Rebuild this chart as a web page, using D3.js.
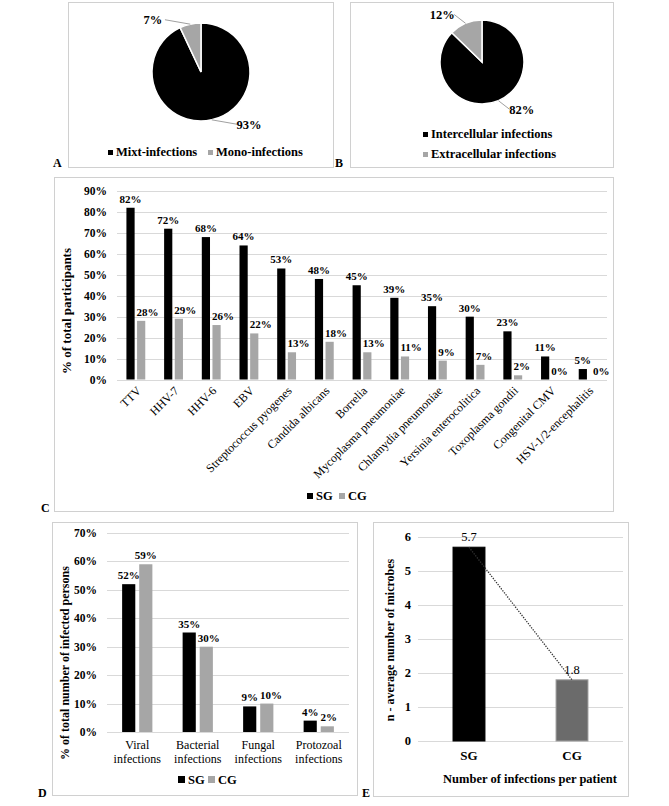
<!DOCTYPE html>
<html lang="en">
<head>
<meta charset="UTF-8" />
<title>Infections</title>
<style>
  body{margin:0;background:#fff;}
</style>
</head>
<body>
<div id="chart"></div>
<script src="https://d3js.org/d3.v7.min.js"></script>
<script>
  // --- data ---
  const pieALabels=['Mixt-infections','Mono-infections'];
  const pieAValues=[93,7];
  const pieBLabels=['Intercellular infections','Extracellular infections'];
  const pieBValues=[82,12];

  const seriesNames=['SG','CG'];
  const cCategories=['TTV','HHV-7','HHV-6','EBV','Streptococcus pyogenes','Candida albicans','Borrelia',
    'Mycoplasma pneumoniae','Chlamydia pneumoniae','Yersinia enterocolitica','Toxoplasma gondii',
    'Congenital CMV','HSV-1/2-encephalitis'];
  const cSG=[82,72,68,64,53,48,45,39,35,30,23,11,5];
  const cCG=[28,29,26,22,13,18,13,11,9,7,2,0,0];
  const cTicks=[0,10,20,30,40,50,60,70,80,90];

  const dCategories=['Viral infections','Bacterial infections','Fungal infections','Protozoal infections'];
  const dSG=[52,35,9,4];
  const dCG=[59,30,10,2];
  const dTicks=[0,10,20,30,40,50,60,70];

  const eGroups=['SG','CG'];
  const eValues=[5.7,1.8];
  const eTicks=[0,1,2,3,4,5,6];

  const BLACK='#000', GRAY='#a6a6a6', GRID='#d9d9d9', FRAME='#d0d0d0';
  const FONT='Liberation Serif, Times New Roman, DejaVu Serif, serif';

  const svg=d3.select('#chart').append('svg').attr('width',669).attr('height',806)
    .attr('font-family',FONT);
  svg.append('rect').attr('width',669).attr('height',806).attr('fill','#fff');

  function frame(x0,y0,x1,y1,letter,lx,ly){
    svg.append('rect').attr('x',x0+.5).attr('y',y0+.5).attr('width',x1-x0).attr('height',y1-y0)
       .attr('fill','none').attr('stroke',FRAME);
    svg.append('text').attr('x',lx).attr('y',ly).attr('font-size',12).attr('font-weight','bold').text(letter);
  }
  frame(68,2,333,167,'A',53,167);
  frame(350,2,613,167,'B',335,167);
  frame(54,177,613,511,'C',41,512);
  frame(52,522,357,795,'D',38,797);
  frame(373,522,628,796,'E',362,797);

  // --- pies ---
  function drawPie(cx,cy,r,values,shift,dist){
    const g=svg.append('g').attr('transform',`translate(${cx},${cy})`);
    const arcs=d3.pie().sort(null)(values);
    const arc=d3.arc().innerRadius(0).outerRadius(r);
    g.selectAll('path').data(arcs).join('path')
      .attr('d',arc).attr('fill',(d,i)=>i?GRAY:BLACK)
      .attr('stroke','#fff').attr('stroke-width',1.5);
    arcs.forEach((d,i)=>{
      const mid=(d.startAngle+d.endAngle)/2;
      const la=mid+shift;
      const lx=Math.sin(la)*(r+dist), ly=-Math.cos(la)*(r+dist);
      const ex=Math.sin(mid)*r, ey=-Math.cos(mid)*r;
      const side=lx<0?1:-1;
      g.append('line').attr('x1',ex).attr('y1',ey).attr('x2',lx+side*12).attr('y2',ly)
        .attr('stroke','#a0a0a0').attr('stroke-width',1);
      g.append('text').attr('x',lx).attr('y',ly).attr('dy','0.35em').attr('text-anchor','middle')
        .attr('font-size',12.5).attr('font-weight','bold')
        .text(Math.round(values[i])+'%');
    });
  }
  drawPie(201,72,49,pieAValues,-30*Math.PI/180,22);
  drawPie(482,62,42,pieBValues,-17*Math.PI/180,20);

  function legendItem(x,y,color,label,size){
    svg.append('rect').attr('x',x).attr('y',y-size).attr('width',size).attr('height',size).attr('fill',color);
    svg.append('text').attr('x',x+size+3).attr('y',y+1).attr('font-size',12.5).attr('font-weight','bold').text(label);
  }
  legendItem(108,155,BLACK,pieALabels[0],5);
  legendItem(208,155,GRAY,pieALabels[1],5);
  legendItem(423,137,BLACK,pieBLabels[0],5);
  legendItem(423,157,GRAY,pieBLabels[1],5);

  // --- grouped bars ---
  function grouped(opt){
    const x0=d3.scaleBand().domain(opt.cats).range(opt.xr);
    const x1=d3.scaleBand().domain(seriesNames)
      .range([x0.bandwidth()*0.25,x0.bandwidth()*0.75]).paddingInner(0.23);
    const y=d3.scaleLinear().domain([0,d3.max(opt.ticks)]).range(opt.yr);
    const g=svg.append('g');
    g.selectAll('.grid').data(opt.ticks).join('line')
      .attr('x1',opt.xr[0]).attr('x2',opt.xr[1]).attr('y1',d=>Math.round(y(d))+.5).attr('y2',d=>Math.round(y(d))+.5)
      .attr('stroke',GRID);
    g.selectAll('.tick').data(opt.ticks).join('text')
      .attr('x',opt.tickX).attr('y',d=>y(d)).attr('dy','0.35em').attr('text-anchor','end')
      .attr('font-size',11.5).attr('font-weight','bold').text(d=>d+'%');
    const flat=[];
    opt.cats.forEach((c,i)=>{
      flat.push({cat:c,s:'SG',v:opt.sg[i]});
      flat.push({cat:c,s:'CG',v:opt.cg[i]});
    });
    const bw=x1.bandwidth();
    const bx=d=>x0(d.cat)+x1(d.s);
    g.selectAll('rect.bar').data(flat).join('rect').attr('class','bar')
      .attr('x',bx).attr('width',bw)
      .attr('y',d=>y(d.v)).attr('height',d=>y(0)-y(d.v))
      .attr('fill',d=>d.s==='SG'?BLACK:GRAY);
    const labels=g.selectAll('text.val').data(flat).join('text').attr('class','val')
      .attr('x',d=>bx(d)+bw/2).attr('y',d=>y(d.v)-5)
      .attr('text-anchor','middle').attr('font-size',opt.valSize).attr('font-weight','bold')
      .text(d=>d.v+'%');
    // keep the CG label clear of the SG bar and SG label, as the spreadsheet does
    const nodes=labels.nodes();
    for(let i=0;i<nodes.length;i+=2){
      const sg=flat[i], cg=flat[i+1];
      const sb=nodes[i].getBBox(), cb=nodes[i+1].getBBox();
      let limit=-Infinity;
      if(sg.v>cg.v) limit=bx(sg)+bw;
      if(Math.abs(y(sg.v)-y(cg.v))<opt.valSize) limit=Math.max(limit,sb.x+sb.width);
      const push=limit+2-cb.x;
      if(push>0) d3.select(nodes[i+1]).attr('x',bx(cg)+bw/2+push);
    }
    return {x0,y,g};
  }

  const C=grouped({cats:cCategories,sg:cSG,cg:cCG,ticks:cTicks,xr:[117,607],yr:[379.5,191],tickX:107,valSize:11});
  C.g.selectAll('.cat').data(cCategories).join('text')
    .attr('transform',d=>`translate(${C.x0(d)+C.x0.bandwidth()/2+3},${C.y(0)+9}) rotate(-45)`)
    .attr('text-anchor','end').attr('dy','0.35em').attr('font-size',12).text(d=>d);
  svg.append('text').attr('transform',`translate(71,311) rotate(-90)`).attr('text-anchor','middle')
    .attr('font-size',13).attr('font-weight','bold').text('% of total participants');
  legendItem(307,499,BLACK,seriesNames[0],6);
  legendItem(339,499,GRAY,seriesNames[1],6);

  const D=grouped({cats:dCategories,sg:dSG,cg:dCG,ticks:dTicks,xr:[107,349],yr:[732,533],tickX:97,valSize:11});
  D.g.selectAll('.cat').data(dCategories).join('text')
    .attr('x',d=>D.x0(d)+D.x0.bandwidth()/2).attr('y',749).attr('text-anchor','middle').attr('font-size',12)
    .each(function(d){
      const parts=d.split(' ');
      d3.select(this).selectAll('tspan').data(parts).join('tspan')
        .attr('x',D.x0(d)+D.x0.bandwidth()/2).attr('dy',(p,i)=>i?14:0).text(p=>p);
    });
  svg.append('text').attr('transform',`translate(69,663) rotate(-90)`).attr('text-anchor','middle')
    .attr('font-size',12).attr('font-weight','bold').text('% of total number of infected persons');
  legendItem(178,783,BLACK,seriesNames[0],7);
  legendItem(208,783,GRAY,seriesNames[1],7);

  // --- E: average number of microbes ---
  const ex=d3.scaleBand().domain(eGroups).range([418,623]).paddingInner(0.69).paddingOuter(0.34);
  const ey=d3.scaleLinear().domain([0,6]).range([741,537]);
  const eg=svg.append('g');
  eg.selectAll('.grid').data(eTicks).join('line')
    .attr('x1',418).attr('x2',623).attr('y1',d=>Math.round(ey(d))+.5).attr('y2',d=>Math.round(ey(d))+.5)
    .attr('stroke',GRID);
  eg.selectAll('.tick').data(eTicks).join('text')
    .attr('x',411).attr('y',d=>ey(d)).attr('dy','0.35em').attr('text-anchor','end')
    .attr('font-size',12.5).attr('font-weight','bold').text(d=>d);
  eg.selectAll('rect').data(eValues).join('rect')
    .attr('x',(d,i)=>ex(eGroups[i])).attr('width',ex.bandwidth())
    .attr('y',d=>ey(d)).attr('height',d=>ey(0)-ey(d))
    .attr('fill',(d,i)=>i?'#6b6b6b':BLACK).attr('stroke',(d,i)=>i?'#a0a0a0':BLACK);
  eg.append('path').datum(eValues)
    .attr('d',d3.line().x((d,i)=>ex(eGroups[i])+ex.bandwidth()/2).y(d=>ey(d)))
    .attr('fill','none').attr('stroke','#333').attr('stroke-width',1.3).attr('stroke-dasharray','1.3,1.3');
  eg.selectAll('.val').data(eValues).join('text')
    .attr('x',(d,i)=>ex(eGroups[i])+ex.bandwidth()/2).attr('y',d=>ey(d)-6)
    .attr('text-anchor','middle').attr('font-size',12.5).text(d=>d.toFixed(1));
  eg.selectAll('.cat').data(eGroups).join('text')
    .attr('x',d=>ex(d)+ex.bandwidth()/2).attr('y',760).attr('text-anchor','middle')
    .attr('font-size',13).attr('font-weight','bold').text(d=>d);
  svg.append('text').attr('x',530).attr('y',783).attr('text-anchor','middle')
    .attr('font-size',12.5).attr('font-weight','bold').text('Number of infections per patient');
  svg.append('text').attr('transform',`translate(394,640) rotate(-90)`).attr('text-anchor','middle')
    .attr('font-size',12).attr('font-weight','bold').text('n - average number of microbes');
</script>
</body>
</html>
